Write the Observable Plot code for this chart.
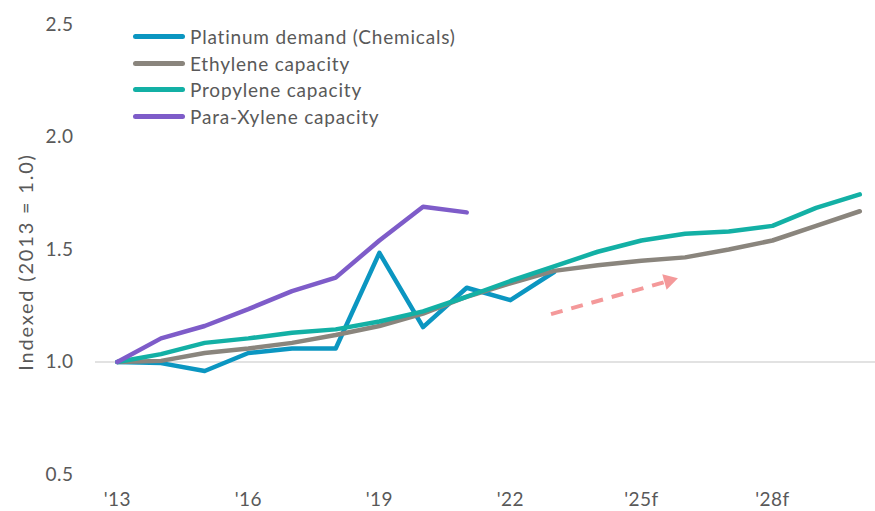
<!DOCTYPE html>
<html>
<head>
<meta charset="utf-8">
<script src="https://cdn.jsdelivr.net/npm/d3@7"></script>
<script src="https://cdn.jsdelivr.net/npm/@observablehq/plot@0.6"></script>
<style>
  html, body { margin: 0; padding: 0; background: #fff; }
  #wrap { position: relative; width: 875px; height: 511px; font-family: Lato, "Noto Sans", sans-serif; color: #595959; }
  #ytitle { position: absolute; left: 25px; top: 262px; transform: translate(-50%, -50%) rotate(-90deg); white-space: nowrap; font-size: 20px; letter-spacing: 1.8px; }
  #legend { position: absolute; left: 133px; top: 23px; font-size: 19px; letter-spacing: 0.8px; }
  .row { display: flex; align-items: center; height: 26.7px; }
  .sw { width: 52px; height: 5px; border-radius: 3px; margin-right: 5px; }
  #chart svg text { letter-spacing: 0.5px; }
</style>
</head>
<body>
<div id="wrap">
  <div id="chart"></div>
  <div id="ytitle">Indexed (2013 = 1.0)</div>
  <div id="legend"></div>
</div>
<script>
// Years on the category axis
const years = [2013, 2014, 2015, 2016, 2017, 2018, 2019, 2020, 2021, 2022,
               2023, 2024, 2025, 2026, 2027, 2028, 2029, 2030];

// Index values (2013 = 1.0)
const platinumDemand = [1.00, 0.995, 0.96, 1.04, 1.06, 1.06, 1.485, 1.155, 1.33, 1.275, 1.40];
const ethyleneCapacity = [1.00, 1.005, 1.04, 1.06, 1.085, 1.12, 1.16, 1.215, 1.29, 1.35,
                          1.405, 1.43, 1.45, 1.465, 1.50, 1.54, 1.605, 1.67];
const propyleneCapacity = [1.00, 1.035, 1.085, 1.105, 1.13, 1.145, 1.18, 1.225, 1.29, 1.36,
                           1.425, 1.49, 1.54, 1.57, 1.58, 1.605, 1.685, 1.745];
const paraXyleneCapacity = [1.00, 1.105, 1.16, 1.235, 1.315, 1.375, 1.54, 1.69, 1.665];

const seriesNames = ["Platinum demand (Chemicals)", "Ethylene capacity", "Propylene capacity", "Para-Xylene capacity"];
const seriesColors = ["#0B96C1", "#8A857D", "#13B0A5", "#7E5CC9"];

// Axis ticks
const yTicks = [0.5, 1.0, 1.5, 2.0, 2.5];
const xTickYears = [2013, 2016, 2019, 2022, 2025, 2028];
const xTickLabels = ["'13", "'16", "'19", "'22", "'25f", "'28f"];

// Dashed trend arrow (shaft start/end and head position, in data units)
const trendArrow = [{x1: 2022.93, y1: 1.213, x2: 2025.55, y2: 1.356, hx: 2025.63, hy: 1.361}];

const rows = [];
[platinumDemand, ethyleneCapacity, propyleneCapacity, paraXyleneCapacity].forEach((vals, s) => {
  vals.forEach((v, i) => rows.push({series: seriesNames[s], year: years[i], value: v}));
});

const chart = Plot.plot({
  width: 875,
  height: 511,
  marginLeft: 95,
  marginRight: 0,
  marginTop: 24,
  marginBottom: 37,
  style: {fontFamily: "Lato, 'Noto Sans', sans-serif", fontSize: "19px", color: "#595959", background: "#fff"},
  x: {domain: [2012.5, 2030.36]},
  y: {domain: [0.5, 2.5]},
  color: {domain: seriesNames, range: seriesColors},
  marks: [
    Plot.ruleY([1], {stroke: "#D9D9D9", strokeWidth: 1.5}),
    Plot.axisY({ticks: yTicks, tickFormat: d3.format(".1f"), tickSize: 0, tickPadding: 22, label: null, fill: "#595959"}),
    Plot.axisX({ticks: xTickYears, tickFormat: (d) => xTickLabels[xTickYears.indexOf(d)], tickSize: 0, tickPadding: 18, label: null, fill: "#595959"}),
    Plot.line(rows, {x: "year", y: "value", z: "series", stroke: "series", strokeWidth: 4.5,
                     strokeLinecap: "round", strokeLinejoin: "round"}),
    Plot.link(trendArrow, {x1: "x1", y1: "y1", x2: "x2", y2: "y2", stroke: "#F4999A", strokeWidth: 4,
                           strokeDasharray: "12 9"}),
    Plot.dot(trendArrow, {x: "hx", y: "hy", symbol: "triangle", r: 6, fill: "#F4999A", rotate: 74.5})
  ]
});
document.getElementById("chart").appendChild(chart);

// Legend drawn over the upper-left of the plot
const legend = d3.select("#legend");
seriesNames.forEach((name, i) => {
  const row = legend.append("div").attr("class", "row");
  row.append("div").attr("class", "sw").style("background", seriesColors[i]);
  row.append("span").text(name);
});
</script>
</body>
</html>
